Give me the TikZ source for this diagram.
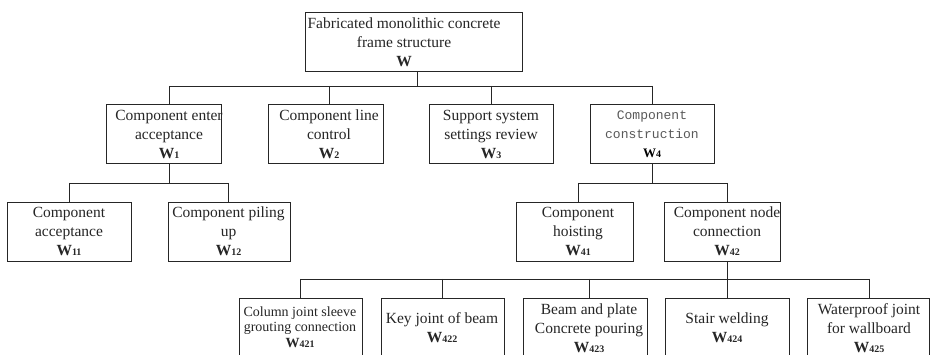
\documentclass[tikz,border=0pt]{standalone}
\usepackage{fontspec}
\setmainfont{Liberation Serif}
\newfontfamily\monof{Liberation Mono}
\newcommand{\Wsub}[1]{\textbf{W}{\fontsize{10}{10}\selectfont\bfseries #1}}
\tikzset{
  box/.style={draw=black!85, line width=0.9pt, inner sep=0pt, minimum height=59pt},
  txt/.style={align=center, text=black!85, font=\fontsize{15.5}{19}\selectfont, inner sep=0pt},
  smalltxt/.style={txt, font=\fontsize{14}{15.5}\selectfont},
  monotxt/.style={align=center, text=black!65, font=\monof\fontsize{13}{19}\selectfont, inner sep=0pt},
  conn/.style={draw=black!85, line width=0.9pt},
}
\begin{document}
\begin{tikzpicture}[x=1pt, y=-1pt]
\clip (0,0) rectangle (930,355);
\fill[white] (0,0) rectangle (930,355);
% ---- boxes ----
\node[box, minimum width=217pt] (W) at (413.5,41.5) {};
\node[box, minimum width=115pt] (W1) at (163.5,133.5) {};
\node[box, minimum width=115pt] (W2) at (325.5,133.5) {};
\node[box, minimum width=124pt] (W3) at (491,133.5) {};
\node[box, minimum width=124pt] (W4) at (652,133.5) {};
\node[box, minimum width=124pt] (W11) at (69,231.5) {};
\node[box, minimum width=122pt] (W12) at (229,231.5) {};
\node[box, minimum width=117pt] (W41) at (574.5,231.5) {};
\node[box, minimum width=116pt] (W42) at (722,231.5) {};
\node[box, minimum width=123pt, minimum height=60pt] (W421) at (300.5,328) {};
\node[box, minimum width=123pt, minimum height=60pt] (W422) at (442.5,328) {};
\node[box, minimum width=124pt, minimum height=60pt] (W423) at (585,328) {};
\node[box, minimum width=124pt, minimum height=60pt] (W424) at (727,328) {};
\node[box, minimum width=122pt, minimum height=60pt] (W425) at (868,328) {};
% ---- texts ----
\node[txt] (Wt) at (404,42) {Fabricated monolithic concrete\\frame structure\\\textbf{W}};
\node[txt] (W1t) at (169,134) {Component enter\\acceptance\\\Wsub{1}};
\node[txt] (W2t) at (329,134) {Component line\\control\\\Wsub{2}};
\node[txt] (W3t) at (491,134) {Support system\\settings review\\\Wsub{3}};
\node[monotxt] (W4t) at (652,134) {Component\\construction\\{\rmfamily\color{black}\Wsub{4}}};
\node[txt] (W11t) at (69,231) {Component\\acceptance\\\Wsub{11}};
\node[txt] (W12t) at (228.5,231) {Component piling\\up\\\Wsub{12}};
\node[txt] (W41t) at (578,231) {Component\\hoisting\\\Wsub{41}};
\node[txt] (W42t) at (727,231) {Component node\\connection\\\Wsub{42}};
\node[smalltxt] (W421t) at (300,327) {Column joint sleeve\\grouting connection\\\Wsub{421}};
\node[txt] (W422t) at (442,327.5) {Key joint of beam\\\Wsub{422}};
\node[txt] (W423t) at (589,328.5) {Beam and plate\\Concrete pouring\\\Wsub{423}};
\node[txt] (W424t) at (727,327.5) {Stair welding\\\Wsub{424}};
\node[txt] (W425t) at (869,328.5) {Waterproof joint\\for wallboard\\\Wsub{425}};
% ---- connectors ----
\coordinate (j0) at (417,86);
\coordinate (j1) at (0,183);
\coordinate (j2) at (0,279);
\draw[conn] (j0 |- W.south) -- (j0);
\draw[conn] (W1t |- j0) -- (W4t |- j0);
\foreach \n in {W1,W2,W3,W4} \draw[conn] (\n t |- j0) -- (\n t |- \n.north);
\draw[conn] (W1t |- W1.south) -- (W1t |- j1);
\draw[conn] (W11t |- j1) -- (W12t |- j1);
\foreach \n in {W11,W12} \draw[conn] (\n t |- j1) -- (\n t |- \n.north);
\draw[conn] (W4t |- W4.south) -- (W4t |- j1);
\draw[conn] (W41t |- j1) -- (W42t |- j1);
\foreach \n in {W41,W42} \draw[conn] (\n t |- j1) -- (\n t |- \n.north);
\draw[conn] (W42t |- W42.south) -- (W42t |- j2);
\draw[conn] (W421t |- j2) -- (W425t |- j2);
\foreach \n in {W421,W422,W423,W424,W425} \draw[conn] (\n t |- j2) -- (\n t |- \n.north);
\end{tikzpicture}
\end{document}
